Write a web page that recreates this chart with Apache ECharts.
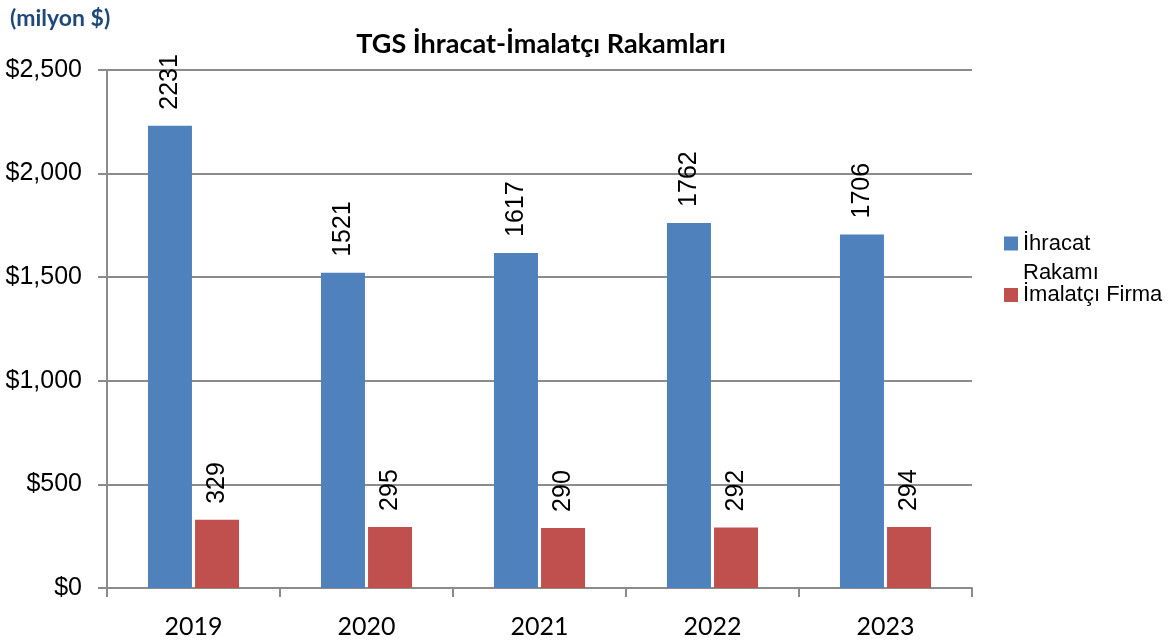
<!DOCTYPE html>
<html>
<head>
<meta charset="utf-8">
<script src="https://cdn.jsdelivr.net/npm/echarts@6/dist/echarts.min.js"></script>
<style>
html,body{margin:0;padding:0;background:#fff;}
#chart{width:1170px;height:642px;}
</style>
</head>
<body>
<div id="chart"></div>
<script>
const categories = ['2019', '2020', '2021', '2022', '2023'];
const ihracat = [2231, 1521, 1617, 1762, 1706];
const imalatci = [329, 295, 290, 292, 294];
const seriesNames = ['İhracat Rakamı', 'İmalatçı Firma'];
const yTicks = { min: 0, max: 2500, interval: 500 };

const chart = echarts.init(document.getElementById('chart'), null, { renderer: 'canvas' });
const gridColor = '#8b8b8b';
const labelStyle = {
  show: true, position: 'top', rotate: 90, align: 'left', verticalAlign: 'middle',
  distance: 16, color: '#000', fontFamily: 'Liberation Sans', fontSize: 25
};
chart.setOption({
  animation: false,
  backgroundColor: '#fff',
  title: [
    { text: 'TGS İhracat-İmalatçı Rakamları', left: 536, top: 26, textAlign: 'center',
      textStyle: { fontFamily: 'Lato', fontWeight: 'bold', fontSize: 27, color: '#000' } },
    { text: '(milyon $)', left: 5, top: 2,
      textStyle: { fontFamily: 'Lato', fontWeight: 'bold', fontSize: 23, color: '#1f497d' } }
  ],
  legend: [
    { orient: 'vertical', left: 999, top: 224, itemWidth: 14, itemHeight: 58,
      data: [{ name: seriesNames[0], icon: 'path://M0,0h0.01v0.01h-0.01z M0,7.5h14v14h-14z M0,58h0.01v-0.01h-0.01z' }],
      formatter: () => 'İhracat\nRakamı',
      textStyle: { fontFamily: 'Liberation Sans', fontSize: 22, lineHeight: 29, color: '#000' } },
    { orient: 'vertical', left: 999, top: 279, itemWidth: 14, itemHeight: 14,
      data: [{ name: seriesNames[1], icon: 'rect' }],
      textStyle: { fontFamily: 'Liberation Sans', fontSize: 22, color: '#000' } }
  ],
  grid: { left: 107, right: 198, top: 70, bottom: 54, containLabel: false },
  xAxis: {
    type: 'category', data: categories, boundaryGap: true,
    axisLine: { show: true, lineStyle: { color: gridColor, width: 2 } },
    axisTick: { show: true, alignWithLabel: false, length: 9, lineStyle: { color: gridColor, width: 2 } },
    axisLabel: { margin: 26, color: '#000', fontFamily: 'Lato', fontSize: 25 },
    splitLine: { show: false }
  },
  yAxis: {
    type: 'value', min: yTicks.min, max: yTicks.max, interval: yTicks.interval,
    axisLine: { show: true, lineStyle: { color: gridColor, width: 2 } },
    axisTick: { show: true, length: 9, lineStyle: { color: gridColor, width: 2 } },
    axisLabel: { margin: 25, color: '#000', fontFamily: 'Liberation Sans', fontSize: 25,
      formatter: v => '$' + v.toLocaleString('en-US') },
    splitLine: { show: true, lineStyle: { color: gridColor, width: 2 } }
  },
  series: [
    { name: seriesNames[0], type: 'bar', data: ihracat, barWidth: 44, barGap: '7%',
      itemStyle: { color: '#4f81bd' }, label: labelStyle },
    { name: seriesNames[1], type: 'bar', data: imalatci, barWidth: 44, barGap: '7%',
      itemStyle: { color: '#c0504d' }, label: labelStyle }
  ]
});
</script>
</body>
</html>
